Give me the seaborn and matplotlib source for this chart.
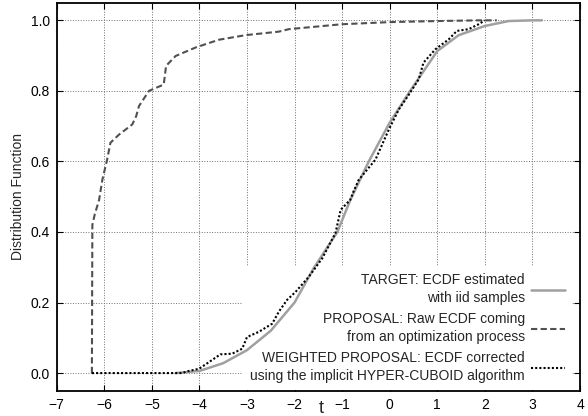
import numpy as np
import pandas as pd
import matplotlib
matplotlib.use("Agg")
import matplotlib.pyplot as plt
import seaborn as sns

sns.set_theme(style="ticks")
plt.rcParams['font.family'] = ['Liberation Sans', 'DejaVu Sans']

# ─── Data ────────────────────────────────────────────────────────────────────
target_t = [-4.5, -4.0, -3.5, -3.0, -2.5, -2.0, -1.6, -1.1, -0.83, -0.44,
            0.0, 0.43, 1.0, 1.45, 2.0, 2.5, 3.0, 3.2]
target_f = [0.0, 0.006, 0.028, 0.065, 0.12, 0.20, 0.297, 0.40, 0.49, 0.60,
            0.71, 0.80, 0.913, 0.958, 0.984, 0.998, 1.0, 1.0]

proposal_t = [-6.26, -6.25, -6.20, -6.11, -6.04, -5.94, -5.87, -5.69, -5.41,
              -5.33, -5.27, -5.06, -4.75, -4.70, -4.50, -4.08, -3.59, -3.03,
              -2.33, -2.12, -1.0, 0.0, 1.0, 1.87, 2.25]
proposal_f = [0.0, 0.42, 0.45, 0.49, 0.548, 0.605, 0.653, 0.676, 0.705,
              0.728, 0.757, 0.80, 0.818, 0.871, 0.899, 0.923, 0.945, 0.958,
              0.968, 0.975, 0.989, 0.995, 0.998, 1.0, 1.0]

weighted_t = [-6.26, -4.37, -4.22, -4.01, -3.80, -3.56, -3.31, -3.10, -3.0,
              -2.75, -2.47, -2.33, -2.16, -1.98, -1.70, -1.42, -1.14, -1.03,
              -0.83, -0.76, -0.65, -0.30, -0.02, 0.19, 0.43, 0.61, 0.71,
              0.96, 1.24, 1.41, 1.66, 1.87, 2.0]
weighted_f = [0.0, 0.0, 0.006, 0.012, 0.031, 0.053, 0.055, 0.069, 0.102,
              0.117, 0.14, 0.174, 0.207, 0.23, 0.273, 0.325, 0.397, 0.463,
              0.491, 0.515, 0.548, 0.605, 0.69, 0.747, 0.795, 0.833, 0.88,
              0.918, 0.946, 0.97, 0.975, 0.989, 1.0]

labels = ["TARGET: ECDF estimated\nwith iid samples",
          "PROPOSAL: Raw ECDF coming\nfrom an optimization process",
          "WEIGHTED PROPOSAL: ECDF corrected\nusing the implicit HYPER-CUBOID algorithm"]
x_ticks = list(range(-7, 5))
y_ticks = [0.0, 0.2, 0.4, 0.6, 0.8, 1.0]

# ─── Plot ────────────────────────────────────────────────────────────────────
fig = plt.figure(figsize=(5.88, 4.16), dpi=100)
ax = fig.add_axes([0.0964, 0.0608, 0.89, 0.9327])

sns.lineplot(x=target_t, y=target_f, sort=False, estimator=None, ax=ax,
             color='#a0a0a0', linewidth=1.8, label=labels[0])
sns.lineplot(x=proposal_t, y=proposal_f, sort=False, estimator=None, ax=ax,
             color='#505050', linewidth=1.5, linestyle='--', label=labels[1])
sns.lineplot(x=weighted_t, y=weighted_f, sort=False, estimator=None, ax=ax,
             color='black', linewidth=1.5, linestyle=':', label=labels[2])
lines = ax.get_lines()
lines[1].set_dashes((3.0, 1.6))
lines[2].set_dashes((1.0, 1.0))

ax.set_xlim(-7, 4)
ax.set_ylim(-0.05, 1.05)
ax.set_xticks(x_ticks)
ax.set_yticks(y_ticks)
ax.set_yticklabels([f"{v:.1f}" for v in y_ticks])
ax.grid(True, linestyle=':', color='#707070', linewidth=0.7)
ax.tick_params(direction='in', top=True, right=True, length=4, width=0.8,
               labelsize=10, colors='black', pad=5)
for s in ax.spines.values():
    s.set_linewidth(1.3)
    s.set_color('black')

ax.set_xlabel("t", fontsize=13)
ax.xaxis.set_label_coords(0.505, -0.025)
ax.set_ylabel("Distribution Function", fontsize=10, labelpad=4)

leg = ax.legend(handles=lines, labels=labels, loc='lower right',
                bbox_to_anchor=(1 - 8 / 523, 0.003),
                markerfirst=False, fontsize=10, frameon=True,
                facecolor='white', edgecolor='none', framealpha=1,
                fancybox=False, handlelength=2.45, handletextpad=0.45,
                labelspacing=0.55, borderpad=0.5, borderaxespad=0)
for txt in leg.get_texts():
    txt.set_multialignment('right')
    txt.set_linespacing(1.3)
leg.set_zorder(1.5)

fig.savefig("out.png", dpi=100)
